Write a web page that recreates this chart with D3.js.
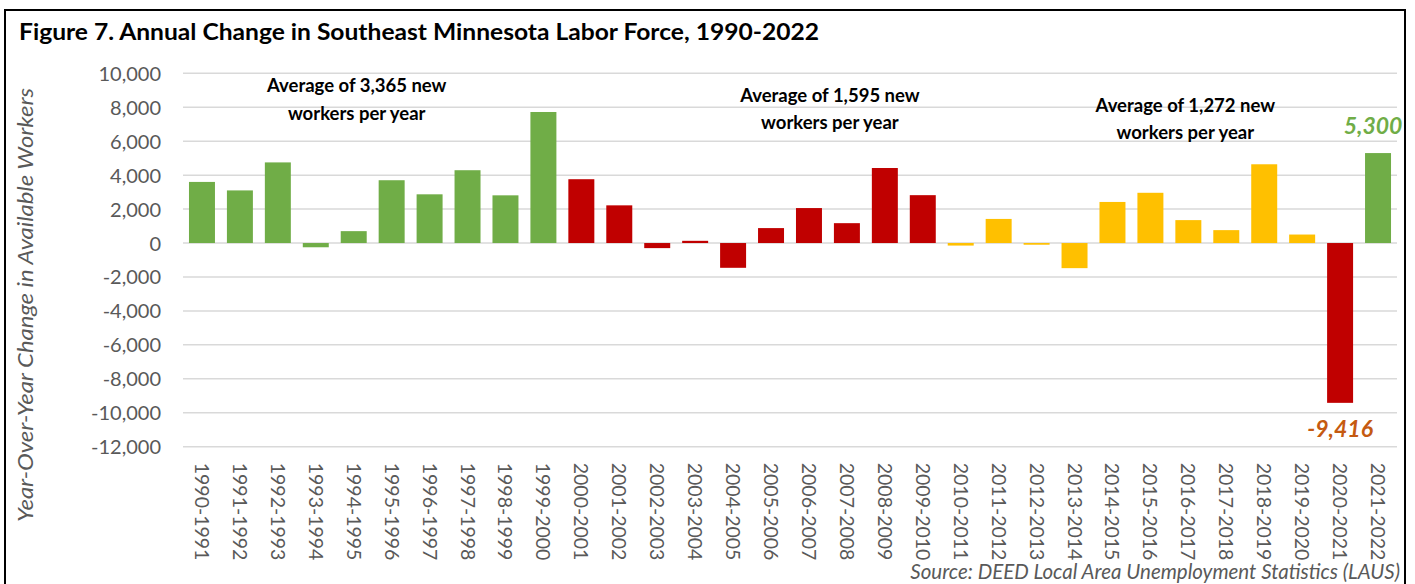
<!DOCTYPE html>
<html>
<head>
<meta charset="utf-8">
<script src="https://cdn.jsdelivr.net/npm/d3@7"></script>
<style>
  html, body { margin: 0; padding: 0; background: #fff; }
  svg { display: block; }
  text { font-family: Lato, "Open Sans", sans-serif; }
</style>
</head>
<body>
<svg id="chart" width="1415" height="584"></svg>
<script>
// ---- data ----
const categories = ["1990-1991","1991-1992","1992-1993","1993-1994","1994-1995","1995-1996","1996-1997","1997-1998","1998-1999","1999-2000",
  "2000-2001","2001-2002","2002-2003","2003-2004","2004-2005","2005-2006","2006-2007","2007-2008","2008-2009","2009-2010",
  "2010-2011","2011-2012","2012-2013","2013-2014","2014-2015","2015-2016","2016-2017","2017-2018","2018-2019","2019-2020",
  "2020-2021","2021-2022"];
const values = [3600, 3100, 4750, -250, 700, 3700, 2870, 4290, 2810, 7720,
  3760, 2220, -300, 130, -1460, 880, 2060, 1170, 4420, 2820,
  -150, 1420, -100, -1480, 2420, 2960, 1350, 760, 4640, 500,
  -9416, 5300];
const periodGroup = ["A","A","A","A","A","A","A","A","A","A",
  "B","B","B","B","B","B","B","B","B","B",
  "C","C","C","C","C","C","C","C","C","C",
  "B","A"];
const yTicks = [10000, 8000, 6000, 4000, 2000, 0, -2000, -4000, -6000, -8000, -10000, -12000];
const annotations = [
  {lines: ["Average of 3,365 new", "workers per year"], at: "1994-1995"},
  {lines: ["Average of 1,595 new", "workers per year"], at: "2007-2008"},
  {lines: ["Average of 1,272 new", "workers per year"], at: "2016-2017"}
];
const title = "Figure 7. Annual Change in Southeast Minnesota Labor Force, 1990-2022";
const yTitle = "Year-Over-Year Change in Available Workers";
const source = "Source: DEED Local Area Unemployment Statistics (LAUS)";

// ---- styles ----
const groupColor = {A: "#70AD47", B: "#C00000", C: "#FFC000"};
const loc = d3.formatLocale({decimal: ".", thousands: ",", grouping: [3], currency: ["$", ""], minus: "-"});
const fmt = loc.format(",");

const svg = d3.select("#chart");

// frame
svg.append("rect").attr("x", 5).attr("y", 10).attr("width", 1400).attr("height", 600)
  .attr("fill", "none").attr("stroke", "#000").attr("stroke-width", 2);

// title
svg.append("text").attr("x", 19).attr("y", 40)
  .attr("font-size", 23.5).attr("font-weight", "bold").attr("fill", "#000")
  .attr("textLength", 800).attr("lengthAdjust", "spacingAndGlyphs")
  .text(title);

const x = d3.scaleBand().domain(categories).range([183, 1397])
  .paddingInner(0.315).paddingOuter(0.1575);
const y = d3.scaleLinear().domain([-12000, 10000]).range([446.7, 73.3]);

// gridlines
svg.append("g").selectAll("line").data(yTicks).join("line")
  .attr("x1", 183).attr("x2", 1397)
  .attr("y1", d => y(d)).attr("y2", d => y(d))
  .attr("stroke", "#D9D9D9").attr("stroke-width", 1.5);

// y axis
const yAxis = svg.append("g").attr("transform", "translate(169,0)")
  .call(d3.axisLeft(y).tickValues(yTicks).tickSize(0).tickPadding(8).tickFormat(fmt));
yAxis.select(".domain").remove();
yAxis.selectAll("text").attr("font-size", 20).attr("fill", "#595959")
  .attr("font-family", "Lato, sans-serif").attr("dy", "0.35em");

// bars
svg.append("g").selectAll("rect").data(categories).join("rect")
  .attr("x", d => x(d))
  .attr("width", x.bandwidth())
  .attr("y", (d, i) => y(Math.max(0, values[i])))
  .attr("height", (d, i) => Math.abs(y(values[i]) - y(0)))
  .attr("fill", (d, i) => groupColor[periodGroup[i]]);

// x axis labels (rotated)
const xAxis = svg.append("g").attr("transform", `translate(0,${y(-12000)})`)
  .call(d3.axisBottom(x).tickSize(0).tickPadding(0));
xAxis.select(".domain").remove();
xAxis.selectAll("text")
  .attr("font-size", 19.5).attr("fill", "#595959").attr("font-family", "Lato, sans-serif")
  .attr("text-anchor", "start")
  .attr("transform", "translate(-7,16) rotate(90)")
  .attr("x", 0).attr("y", 0).attr("dy", "0");

// annotations
const annoY = [[92, 120], [102, 129], [112, 139]];
const annoDx = [3, -17, -3];
annotations.forEach((a, k) => {
  const cx = x(a.at) + x.bandwidth() / 2 + annoDx[k];
  a.lines.forEach((ln, j) => {
    svg.append("text").attr("x", cx).attr("y", annoY[k][j])
      .attr("text-anchor", "middle").attr("font-size", 18.5).attr("font-weight", "bold")
      .attr("fill", "#000").text(ln);
  });
});

// value labels
const lastI = categories.length - 1;
svg.append("text")
  .attr("x", x(categories[lastI]) + x.bandwidth() / 2 - 5)
  .attr("y", y(values[lastI]) - 19)
  .attr("text-anchor", "middle").attr("font-size", 23).attr("font-weight", "bold")
  .attr("font-style", "italic").attr("fill", "#70AD47")
  .text(fmt(values[lastI]));
svg.append("text")
  .attr("x", x(categories[lastI - 1]) + x.bandwidth() / 2)
  .attr("y", y(values[lastI - 1]) + 34)
  .attr("text-anchor", "middle").attr("font-size", 23).attr("font-weight", "bold")
  .attr("font-style", "italic").attr("fill", "#C55A11")
  .text(fmt(values[lastI - 1]));

// y title
svg.append("text")
  .attr("transform", "translate(33,305) rotate(-90)")
  .attr("text-anchor", "middle").attr("font-size", 21).attr("font-style", "italic")
  .attr("fill", "#595959")
  .attr("textLength", 434).attr("lengthAdjust", "spacingAndGlyphs")
  .text(yTitle);

// source
svg.append("text").attr("x", 1400).attr("y", 579)
  .attr("text-anchor", "end").attr("font-size", 20.5).attr("font-style", "italic")
  .attr("fill", "#595959").text(source);
</script>
</body>
</html>
